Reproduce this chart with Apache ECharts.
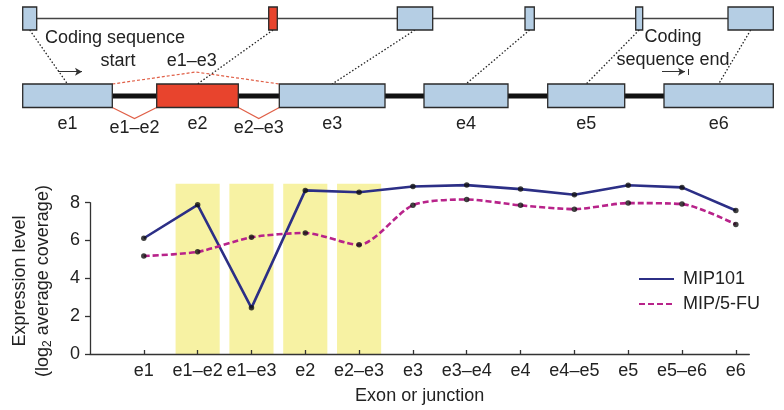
<!DOCTYPE html>
<html><head><meta charset="utf-8">
<script src="https://cdn.jsdelivr.net/npm/echarts@6/dist/echarts.min.js"></script>
<style>html,body{margin:0;padding:0;background:#fff}#c{width:784px;height:410px}</style>
</head><body><div id="c"></div>
<script>
// ---------- data ----------
const categories = ['e1','e1–e2','e1–e3','e2','e2–e3','e3','e3–e4','e4','e4–e5','e5','e5–e6','e6'];
const mip101 = [6.12,7.89,2.44,8.65,8.55,8.86,8.93,8.72,8.42,8.92,8.81,7.59];
const mip5fu = [5.18,5.40,6.17,6.40,5.77,7.87,8.17,7.86,7.66,7.98,7.93,6.85];
const highlighted = ['e1–e2','e1–e3','e2','e2–e3'];
const yTicks = [0,2,4,6,8];
const seriesNames = ['MIP101','MIP/5-FU'];

// gene model (diagram units): [start, end, isAlternative]
const genomicExons = [[22.7,36.7,0],[268.7,277.3,1],[397.3,432.7,0],[525,534.3,0],[635.7,642.7,0],[728,773.3,0]];
const transcriptExons = [[22.7,112.3,0],[156.7,238.3,1],[279.3,385,0],[424,508,0],[547.7,624.7,0],[664,773.3,0]];
const exonLabels = ['e1','e2','e3','e4','e5','e6'];
// junctions: [fromExon, toExon, below(1)/above(0)]
const junctions = [[0,1,1],[1,2,1],[0,2,0]];
const junctionLabels = ['e1–e2','e2–e3','e1–e3'];

// ---------- style / layout ----------
const FONT = '"Liberation Sans", Arial, Helvetica, sans-serif';
const TXT = '#222';
const NAVY = '#2c2f86';
const MAGENTA = '#b8238a';
const YELLOW = '#f7f2a3';
const BLUE = '#b5cee4';
const RED = '#e8442d';
const JRED = '#e06048';
const GEN_ROW = [7, 30];
const TR_ROW = [84, 107.5];
const GEN_LINE_Y = 18.5;
const TR_LINE_Y = 96;
const BAND_HALF = 0.41;
const BAND_TOP = 9;

const chart = echarts.init(document.getElementById('c'));

function rectItem(api, row) {
  const p0 = api.coord([api.value(0), row[0]]);
  const p1 = api.coord([api.value(1), row[1]]);
  return {type:'rect', shape:{x:p0[0], y:p0[1], width:p1[0]-p0[0], height:p1[1]-p0[1]},
    style:{fill: api.value(2) ? RED : BLUE, stroke:'#2a2a2a', lineWidth:1.3}};
}

const diag = {xAxisIndex:1, yAxisIndex:1, silent:true};

const option = {
  animation:false,
  textStyle:{fontFamily:FONT},
  grid:[{left:90,right:34.7,top:202.7,bottom:56},{left:0,right:0,top:0,bottom:0}],
  xAxis:[{
    gridIndex:0, type:'value', min:-1, max:11.25,
    axisLine:{onZero:false,lineStyle:{color:'#333',width:1.3}},
    axisTick:{inside:true,length:4,customValues:categories.map((c,i)=>i),lineStyle:{color:'#333',width:1.3}},
    axisLabel:{customValues:categories.map((c,i)=>i),formatter:v=>categories[v],fontSize:18,color:TXT,margin:8,fontFamily:FONT},
    splitLine:{show:false},
    name:'Exon or junction', nameLocation:'middle', nameGap:33,
    nameTextStyle:{fontSize:18,color:TXT,fontFamily:FONT}
  },{gridIndex:1,type:'value',min:0,max:784,show:false}],
  yAxis:[{
    gridIndex:0, type:'value', min:0, max:8, interval:2,
    axisLine:{show:true,onZero:false,lineStyle:{color:'#333',width:1.3}},
    axisTick:{show:true,length:5,lineStyle:{color:'#333',width:1.3}},
    axisLabel:{fontSize:18,color:TXT,margin:10,fontFamily:FONT},
    splitLine:{show:false}
  },{gridIndex:1,type:'value',min:0,max:410,inverse:true,show:false}],
  legend:{
    data:seriesNames, orient:'vertical', left:638, top:270, padding:0, itemWidth:35, itemHeight:14, itemGap:7,
    itemStyle:{opacity:0},
    textStyle:{fontSize:18,color:TXT,fontFamily:FONT,padding:[0,0,0,4]}
  },
  graphic:[
    {type:'text', x:20, y:281, rotation:Math.PI/2, silent:true,
      style:{text:'Expression level', fontSize:18, fontFamily:FONT, fill:TXT, align:'center', verticalAlign:'middle'}},
    {type:'text', x:43, y:281, rotation:Math.PI/2, silent:true,
      style:{text:'{a|(log}{s|2}{a| average coverage)}', align:'center', verticalAlign:'middle', fill:TXT,
        rich:{a:{fontSize:18,fontFamily:FONT,fill:TXT,lineHeight:22},
              s:{fontSize:12,fontFamily:FONT,fill:TXT,lineHeight:12,verticalAlign:'bottom'}}}},
    {type:'text', x:45, y:38.5, silent:true,
      style:{text:'Coding sequence', fontSize:18, fontFamily:FONT, fill:TXT, align:'left', verticalAlign:'middle'}},
    {type:'text', x:118, y:61.5, silent:true,
      style:{text:'start', fontSize:18, fontFamily:FONT, fill:TXT, align:'center', verticalAlign:'middle'}},
    {type:'text', x:673, y:37, silent:true,
      style:{text:'Coding', fontSize:18, fontFamily:FONT, fill:TXT, align:'center', verticalAlign:'middle'}},
    {type:'text', x:673, y:60, silent:true,
      style:{text:'sequence end', fontSize:18, fontFamily:FONT, fill:TXT, align:'center', verticalAlign:'middle'}}
  ],
  series:[
    // highlighted (junction / alternative) bands
    {type:'custom', z:0, silent:true, clip:false,
      data:highlighted.map(c=>[categories.indexOf(c)]),
      renderItem:(p,api)=>{const i=api.value(0);
        const a=api.coord([i-BAND_HALF,0]), b=api.coord([i+BAND_HALF,BAND_TOP]);
        return {type:'rect',shape:{x:a[0],y:b[1],width:b[0]-a[0],height:a[1]-b[1]},style:{fill:YELLOW}};}
    },
    {
      name:seriesNames[0], type:'line', data:mip101.map((v,i)=>[i,v]), symbol:'none', clip:false,
      lineStyle:{color:NAVY,width:2.6}, itemStyle:{color:NAVY}, z:3
    },
    {
      name:seriesNames[1], type:'line', data:mip5fu.map((v,i)=>[i,v]), symbol:'none', smooth:0.25, clip:false,
      lineStyle:{color:MAGENTA,width:2.6,type:[6,3]}, itemStyle:{color:MAGENTA}, z:3
    },
    {
      type:'scatter', data:mip101.map((v,i)=>[i,v]).concat(mip5fu.map((v,i)=>[i,v])),
      symbolSize:5.5, itemStyle:{color:'#111'}, z:5, silent:true, clip:false
    },
    // genomic backbone
    Object.assign({type:'custom', data:[[genomicExons[0][1], genomicExons[genomicExons.length-1][0]]],
      renderItem:(p,api)=>{const a=api.coord([api.value(0),GEN_LINE_Y]),b=api.coord([api.value(1),GEN_LINE_Y]);
        return {type:'line',shape:{x1:a[0],y1:a[1],x2:b[0],y2:b[1]},style:{stroke:'#444',lineWidth:1.5}};},
      markLine:{silent:true, symbol:['none','arrow'], symbolSize:[6,7], label:{show:false},
        lineStyle:{color:'#333',width:1,type:'solid'},
        data:[[{coord:[58,71.7]},{coord:[82,71.7]}],[{coord:[662,71.7]},{coord:[685,71.7]}],
              [{coord:[688,69],symbol:'none'},{coord:[688,75],symbol:'none'}]]}
    }, diag),
    // transcript backbone (introns)
    Object.assign({type:'custom', data:[[transcriptExons[0][1], transcriptExons[transcriptExons.length-1][0]]],
      renderItem:(p,api)=>{const a=api.coord([api.value(0),TR_LINE_Y]),b=api.coord([api.value(1),TR_LINE_Y]);
        return {type:'line',shape:{x1:a[0],y1:a[1],x2:b[0],y2:b[1]},style:{stroke:'#111',lineWidth:5}};}
    }, diag),
    // dotted connectors
    Object.assign({type:'custom', z:1,
      data:genomicExons.map((g,i)=>[(g[0]+g[1])/2,(transcriptExons[i][0]+transcriptExons[i][1])/2]),
      renderItem:(p,api)=>{const a=api.coord([api.value(0),GEN_ROW[1]]),b=api.coord([api.value(1),TR_ROW[0]]);
        return {type:'line',shape:{x1:a[0],y1:a[1],x2:b[0],y2:b[1]},style:{stroke:'#222',lineWidth:1.3,lineDash:[1.5,2]}};}
    }, diag),
    // junction arcs
    Object.assign({type:'custom', z:2,
      data:junctions.map(j=>[transcriptExons[j[0]][1], transcriptExons[j[1]][0], j[2]]),
      renderItem:(p,api)=>{
        const a=api.value(0), b=api.value(1), below=api.value(2)===1;
        const yE = below?TR_ROW[1]:TR_ROW[0], yA = below?118.5:72, mid=(a+b)/2;
        const pts=[api.coord([a,yE]),api.coord([mid,yA]),api.coord([b,yE])];
        const lp = below? api.coord([mid,128.5]) : api.coord([mid-4,61.5]);
        return {type:'group',children:[
          {type:'polyline',shape:{points:pts},style:{stroke:JRED,lineWidth:1.2,fill:null,lineDash:below?null:[3,2]}},
          {type:'text',x:lp[0],y:lp[1],style:{text:junctionLabels[p.dataIndex],fontSize:18,fontFamily:FONT,fill:TXT,align:'center',verticalAlign:'middle'}}
        ]};
      }
    }, diag),
    // genomic exons
    Object.assign({type:'custom', z:3, data:genomicExons,
      renderItem:(p,api)=>rectItem(api,GEN_ROW)}, diag),
    // transcript exons + labels
    Object.assign({type:'custom', z:3, data:transcriptExons,
      renderItem:(p,api)=>{
        const r=rectItem(api,TR_ROW);
        const c=api.coord([(api.value(0)+api.value(1))/2,124.5]);
        return {type:'group',children:[r,
          {type:'text',x:c[0],y:c[1],style:{text:exonLabels[p.dataIndex],fontSize:18,fontFamily:FONT,fill:TXT,align:'center',verticalAlign:'middle'}}]};
      }}, diag)
  ]
};
chart.setOption(option);
</script>
</body></html>
